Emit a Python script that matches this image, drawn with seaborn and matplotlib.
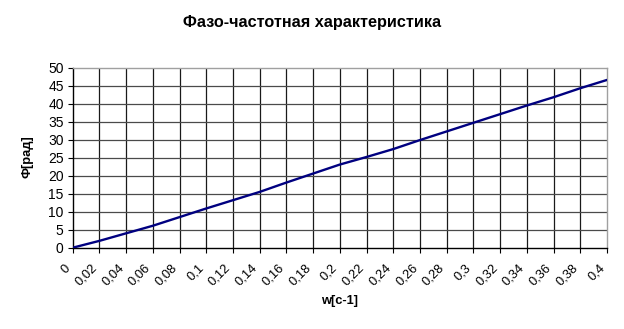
import matplotlib
matplotlib.use("Agg")
import matplotlib.pyplot as plt
import seaborn as sns
import pandas as pd

w_values = [0, 0.02, 0.04, 0.06, 0.08, 0.10, 0.12, 0.14, 0.16, 0.18, 0.20,
            0.22, 0.24, 0.26, 0.28, 0.30, 0.32, 0.34, 0.36, 0.38, 0.40]
phi_values = [0, 1.9, 4.0, 6.1, 8.5, 10.9, 13.2, 15.5, 18.1, 20.6, 23.1,
              25.2, 27.4, 29.9, 32.3, 34.7, 37.1, 39.5, 41.8, 44.3, 46.6]
x_tick_labels = ["0", "0,02", "0,04", "0,06", "0,08", "0,1", "0,12", "0,14", "0,16",
                 "0,18", "0,2", "0,22", "0,24", "0,26", "0,28", "0,3", "0,32", "0,34",
                 "0,36", "0,38", "0,4"]
y_ticks = [0, 5, 10, 15, 20, 25, 30, 35, 40, 45, 50]

title = "Фазо-частотная характеристика"
xlabel = "w[c-1]"
ylabel = "Ф[рад]"

sns.set_style("white")
plt.rcParams['font.family'] = ['Liberation Sans', 'DejaVu Sans']
plt.rcParams['text.color'] = 'black'
plt.rcParams['xtick.color'] = 'black'
plt.rcParams['ytick.color'] = 'black'

df = pd.DataFrame({"w": w_values, "phi": phi_values})

fig = plt.figure(figsize=(6.24, 3.29), dpi=100)
ax = fig.add_axes([72.7/624, 1-247.7/329, (607-72.7)/624, (247.7-67.7)/329])

ax.set_xlim(0, 0.4)
ax.set_ylim(0, 50)
ax.set_xticks(w_values)
ax.set_xticklabels(x_tick_labels, rotation=45, ha='right', va='bottom',
                   rotation_mode='anchor', fontsize=9.3)
ax.set_yticks(y_ticks)
ax.set_yticklabels([str(v) for v in y_ticks], fontsize=10)

for v in w_values[1:-1]:
    ax.axvline(v, color='#1a1a1a', lw=0.9, zorder=1)
for v in y_ticks[1:-1]:
    ax.axhline(v, color='#4a4a4a', lw=0.9, zorder=1)

sns.lineplot(data=df, x="w", y="phi", ax=ax, color='#000080', lw=1.7, zorder=3)

ax.tick_params(axis='y', which='both', direction='out', length=3.5, width=0.8,
               color='black', labelcolor='black', pad=3, left=True)
ax.tick_params(axis='x', which='both', direction='out', length=3.5, width=0.8,
               color='black', labelcolor='black', pad=13, bottom=True)
for side in ['left', 'bottom']:
    ax.spines[side].set_color('black')
    ax.spines[side].set_linewidth(1.0)
for side in ['top', 'right']:
    ax.spines[side].set_color('#a0a0a0')
    ax.spines[side].set_linewidth(1.0)

ax.set_xlabel("")
ax.set_ylabel("")
fig.text(340/624, 1-301/329, xlabel, ha='center', va='center', fontsize=9.3, fontweight='bold', color='black')
fig.text(28/624, 1-157/329, ylabel, ha='center', va='center', rotation=90, fontsize=9.3, fontweight='bold', color='black')
fig.text(312/624, 1-22/329, title, ha='center', va='center', fontsize=11.7, fontweight='bold', color='black')

fig.savefig("out.png", dpi=100)
